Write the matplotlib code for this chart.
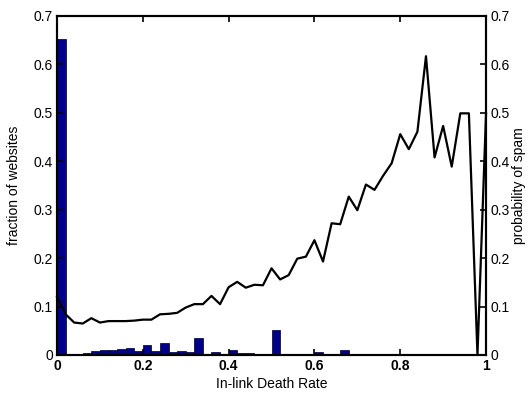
import numpy as np
import matplotlib
matplotlib.use("Agg")
import matplotlib.pyplot as plt

plt.rcParams['font.family'] = ['Liberation Sans', 'DejaVu Sans']
plt.rcParams['font.size'] = 10

# histogram of in-link death rate (bins of width 0.02)
bin_left = np.arange(50) * 0.02
frac_sites = [0.653, 0.0005, 0.003, 0.005, 0.0076, 0.011, 0.011, 0.013, 0.015, 0.0076,
              0.021, 0.009, 0.025, 0.007, 0.009, 0.007, 0.035, 0.003, 0.007, 0.003,
              0.011, 0.005, 0.005, 0.002, 0.0005, 0.052, 0.003, 0.003, 0.003, 0.0005,
              0.006, 0.003, 0.0005, 0.011, 0.001, 0.001, 0.001, 0.002, 0.0005, 0.0005,
              0.0005, 0.0005, 0.0005, 0.0005, 0.0005, 0.0005, 0.0005, 0.0005, 0.0005, 0.0005]

# probability of spam per bin
rate_x = np.arange(51) * 0.02
p_spam = [0.120, 0.084, 0.067, 0.065, 0.076, 0.067, 0.070, 0.070, 0.070, 0.071, 0.073, 0.073,
          0.084, 0.085, 0.087, 0.098, 0.105, 0.105, 0.122, 0.105, 0.140, 0.151, 0.139, 0.145, 0.144,
          0.179, 0.156, 0.165, 0.199, 0.203, 0.237, 0.193, 0.272, 0.270, 0.327, 0.299, 0.352, 0.341,
          0.370, 0.396, 0.456, 0.425, 0.461, 0.617, 0.408, 0.473, 0.389, 0.499, 0.499, 0.0, 0.499]

yticks = [0, 0.1, 0.2, 0.3, 0.4, 0.5, 0.6, 0.7]
ylabels = ['0', '0.1', '0.2', '0.3', '0.4', '0.5', '0.6', '0.7']
xticks = [0, 0.2, 0.4, 0.6, 0.8, 1]
xlabels = ['0', '0.2', '0.4', '0.6', '0.8', '1']

fig = plt.figure(figsize=(5.29, 3.94), dpi=100)
ax = fig.add_axes([0.1078, 0.099, 0.811, 0.8604])

ax.bar(bin_left, frac_sites, width=0.02, align='edge', color='#00008C',
       edgecolor='black', linewidth=0.5)
ax.set_xlim(0, 1)
ax.set_ylim(0, 0.7)
ax.set_yticks(yticks)
ax.set_yticklabels(ylabels)
ax.set_xticks(xticks)
ax.set_xticklabels(xlabels, fontweight='bold')
ax.set_xlabel('In-link Death Rate', labelpad=3)
ax.set_ylabel('fraction of websites', labelpad=9)
ax.tick_params(direction='in', length=4, width=1.2, top=True, pad=3)

ax2 = ax.twinx()
ax2.plot(rate_x, p_spam, color='black', linewidth=1.6, clip_on=False)
ax2.set_ylim(0, 0.7)
ax2.set_yticks(yticks)
ax2.set_yticklabels(ylabels)
ax2.set_ylabel('probability of spam', labelpad=2)
ax2.tick_params(direction='in', length=4, width=1.2, pad=3)

for a in (ax, ax2):
    for s in a.spines.values():
        s.set_linewidth(1.5)

fig.savefig('out.png', dpi=100)
